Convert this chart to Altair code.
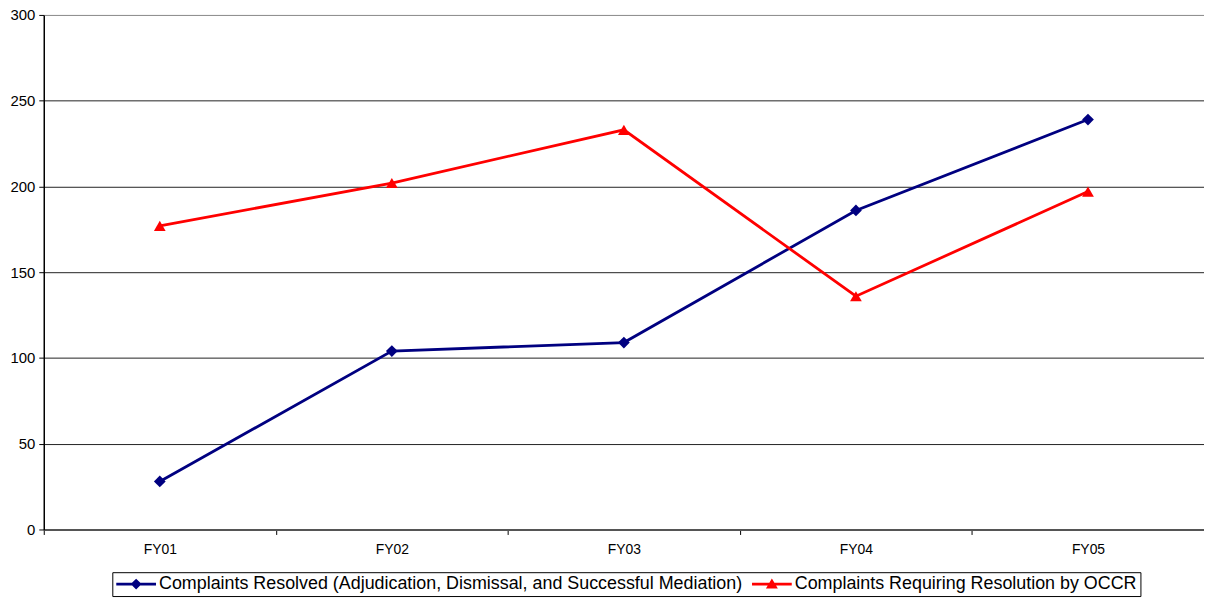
import altair as alt
import pandas as pd

years = ["FY01", "FY02", "FY03", "FY04", "FY05"]
series_names = [
    "Complaints Resolved (Adjudication, Dismissal, and Successful Mediation)",
    "Complaints Requiring Resolution by OCCR",
]
resolved = [28, 104, 109, 186, 239]
requiring = [177, 202, 233, 136, 197]
colors = ["#000080", "#FF0000"]
markers = ["diamond", "triangle-up"]

rows = []
for name, vals in zip(series_names, [resolved, requiring]):
    for y, v in zip(years, vals):
        rows.append({"Year": y, "Series": name, "Value": v})
df = pd.DataFrame(rows)

W, H = 1168, 518
step = W / len(years)

# legend symbol paths: line + marker
diamond_path = ("M-1,-0.17L4,-0.17L4,0.17L-1,0.17Z"
                "M1.5,-0.69L2.19,0L1.5,0.69L0.81,0Z")
triangle_path = ("M-1,-0.17L4,-0.17L4,0.17L-1,0.17Z"
                 "M1.5,-0.72L2.25,0.55L0.75,0.55Z")

color_scale = alt.Scale(domain=series_names, range=colors)

legend = alt.Legend(
    title=None, orient="none", direction="horizontal",
    legendX=69, legendY=561,
    strokeColor="#000", fillColor="#fff", padding=3,
    symbolSize=256, symbolOpacity=1, symbolStrokeWidth=0,
    labelOffset=26, columnPadding=8,
    labelFontSize=18, labelFont="Liberation Sans", labelColor="#000",
    labelLimit=1000,
)

base = alt.Chart(df).encode(
    x=alt.X("Year:N", sort=years, title=None,
            scale=alt.Scale(type="point", padding=0.5),
            axis=alt.Axis(labelAngle=0, tickOffset=-step / 2, labelOffset=step / 2,
                          tickSize=5, tickColor="#000", domainColor="#555", domainWidth=2,
                          labelPadding=8, labelFontSize=14, labelColor="#000",
                          labelFont="Liberation Sans", grid=False)),
    y=alt.Y("Value:Q", title=None,
            scale=alt.Scale(domain=[0, 300], nice=False),
            axis=alt.Axis(values=[0, 50, 100, 150, 200, 250, 300], tickSize=5,
                          tickColor="#000", domainColor="#000", domainWidth=1.5,
                          labelPadding=4, labelFontSize=15, labelColor="#000",
                          labelFont="Liberation Sans", grid=True,
                          gridColor={"condition": {"test": "datum.value == 300", "value": "#888"},
                                     "value": "#222"},
                          gridWidth=1)),
)

layers = []
for name, col, mk in zip(series_names, colors, markers):
    sub = base.transform_filter(alt.datum.Series == name)
    layers.append(sub.mark_line(strokeWidth=2.8, color=col))
    layers.append(sub.mark_point(filled=True, size=140, opacity=1, shape=mk, color=col))

legend_layer = base.mark_point(filled=True, opacity=0, size=10).encode(
    color=alt.Color("Series:N", scale=color_scale, sort=series_names, legend=legend),
    shape=alt.Shape("Series:N", sort=series_names,
                    scale=alt.Scale(domain=series_names, range=[diamond_path, triangle_path]),
                    legend=legend),
)

chart = alt.layer(*layers, legend_layer).properties(
    width=W, height=H,
    autosize=alt.AutoSizeParams(type="none"),
    padding={"left": 36, "top": 5, "right": 0, "bottom": 67},
    background="#ffffff",
).configure_view(stroke=None)

chart.save("out.html", embed_options={"renderer": "svg", "actions": False})
